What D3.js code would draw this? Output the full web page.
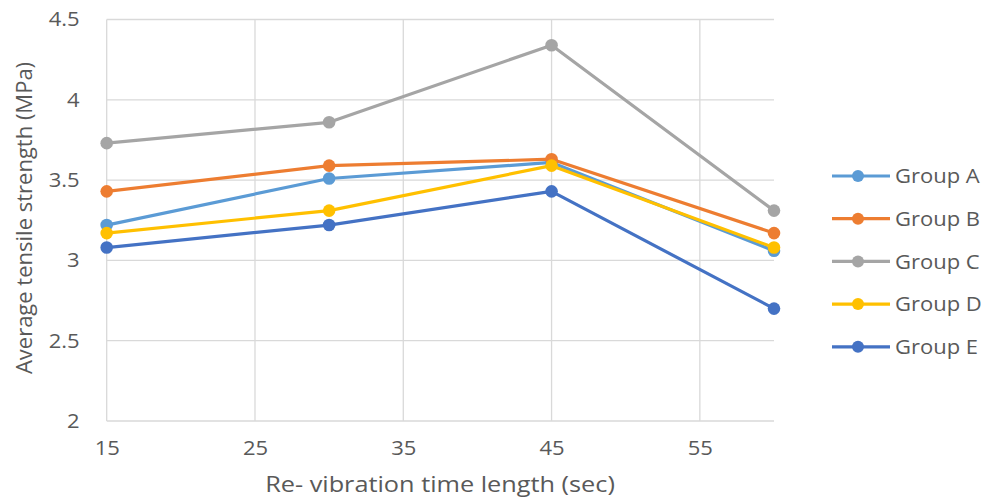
<!DOCTYPE html>
<html><head><meta charset="utf-8">
<script src="https://cdn.jsdelivr.net/npm/d3@7"></script>
<style>body{margin:0;background:#fff;}svg{display:block;font-family:"Open Sans","Noto Sans",sans-serif;}</style>
</head><body><svg id="c" width="985" height="499"></svg>
<script>
const xValues = [15, 30, 45, 60];
const xTicks = [15, 25, 35, 45, 55];
const yTicks = [2, 2.5, 3, 3.5, 4, 4.5];
const seriesNames = ["Group A", "Group B", "Group C", "Group D", "Group E"];
const groupA = [3.22, 3.51, 3.61, 3.06];
const groupB = [3.43, 3.59, 3.63, 3.17];
const groupC = [3.73, 3.86, 4.34, 3.31];
const groupD = [3.17, 3.31, 3.59, 3.08];
const groupE = [3.08, 3.22, 3.43, 2.70];
const colors = ["#5B9BD5", "#ED7D31", "#A5A5A5", "#FFC000", "#4472C4"];
const series = [groupA, groupB, groupC, groupD, groupE];

const svg = d3.select("#c");
const x = d3.scaleLinear().domain([15, 60]).range([106.7, 774]);
const y = d3.scaleLinear().domain([2, 4.5]).range([421, 19.5]);
const grid = "#d9d9d9";
const txt = "#595959";
const sx = 1.1;

// horizontal gridlines
svg.append("g").selectAll("line").data(yTicks).join("line")
  .attr("x1", x(15)).attr("x2", x(60)).attr("y1", d => y(d)).attr("y2", d => y(d))
  .attr("stroke", grid).attr("stroke-width", 1.3);
// vertical gridlines
svg.append("g").selectAll("line").data(xTicks).join("line")
  .attr("x1", d => x(d)).attr("x2", d => x(d)).attr("y1", y(2)).attr("y2", y(4.5))
  .attr("stroke", grid).attr("stroke-width", 1.3);

// axes with d3 (labels only)
const yAxis = svg.append("g").attr("transform", `translate(${x(15) - 27},0)`)
  .call(d3.axisLeft(y).tickValues(yTicks).tickSize(0).tickPadding(0).tickFormat(d => String(d)));
yAxis.select(".domain").remove();
yAxis.selectAll("text").attr("fill", txt).attr("font-size", 20)
  .attr("font-family", "'Open Sans','Noto Sans',sans-serif").attr("transform", `scale(${sx},1)`);

const xAxis = svg.append("g").attr("transform", `translate(0,${y(2) + 17})`)
  .call(d3.axisBottom(x).tickValues(xTicks).tickSize(0).tickFormat(d => String(d)));
xAxis.select(".domain").remove();
xAxis.selectAll("text").attr("fill", txt).attr("font-size", 20)
  .attr("font-family", "'Open Sans','Noto Sans',sans-serif").attr("transform", `scale(${sx},1)`);

// axis titles
svg.append("text").attr("transform", "translate(32,218) rotate(-90)")
  .attr("text-anchor", "middle").attr("fill", txt).attr("font-size", 22)
  .text("Average tensile strength (MPa)");
svg.append("text").attr("transform", "translate(440,492) scale(1.15,1)")
  .attr("text-anchor", "middle").attr("fill", txt).attr("font-size", 22)
  .text("Re- vibration time length (sec)");

// lines
const line = d3.line().x((d, i) => x(xValues[i])).y(d => y(d));
series.forEach((s, k) => {
  const g = svg.append("g");
  g.append("path").datum(s).attr("d", line).attr("fill", "none")
    .attr("stroke", colors[k]).attr("stroke-width", 3.2).attr("stroke-linejoin", "round");
  g.selectAll("circle").data(s).join("circle")
    .attr("cx", (d, i) => x(xValues[i])).attr("cy", d => y(d)).attr("r", 6.3)
    .attr("fill", colors[k]);
});

// legend
const leg = svg.append("g");
seriesNames.forEach((n, k) => {
  const yy = 176 + k * 42.7;
  leg.append("line").attr("x1", 832).attr("x2", 890).attr("y1", yy).attr("y2", yy)
    .attr("stroke", colors[k]).attr("stroke-width", 3.2);
  leg.append("circle").attr("cx", 858).attr("cy", yy).attr("r", 6).attr("fill", colors[k]);
  leg.append("text").attr("transform", `translate(895,${yy}) scale(${sx},1)`).attr("dy", "0.36em")
    .attr("fill", txt).attr("font-size", 20).text(n);
});
</script></body></html>
